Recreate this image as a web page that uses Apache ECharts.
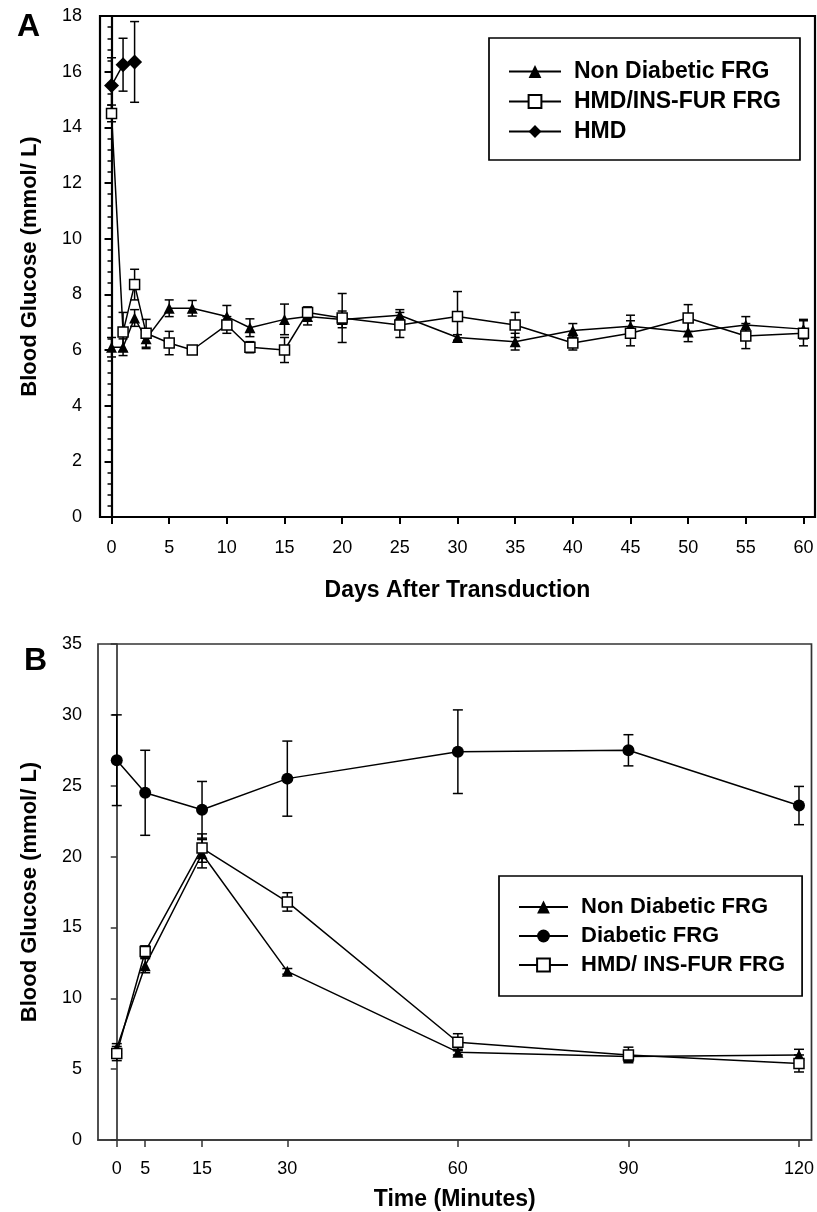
<!DOCTYPE html>
<html>
<head>
<meta charset="utf-8">
<script src="https://cdn.jsdelivr.net/npm/echarts@6/dist/echarts.min.js"></script>
<style>html,body{margin:0;padding:0;background:#fff;}#c{width:817px;height:1212px;}</style>
</head>
<body>
<div id="c"></div>
<script>
// ---------- Panel A data ----------
var daysA = [0,1,2,3,5,7,10,12,15,17,20,25,30,35,40,45,50,55,60];
var nonDiabA = [6.1,6.1,7.15,6.4,7.5,7.5,7.2,6.8,7.1,7.2,7.1,7.25,6.45,6.3,6.7,6.85,6.65,6.9,6.75];
var nonDiabAErr = [0.35,0.3,0.3,0.35,0.3,0.28,0.4,0.32,0.55,0.3,0.3,0.2,0.1,0.3,0.25,0.4,0.35,0.3,0.35];
var hmdInsA = [14.5,6.65,8.35,6.6,6.25,6.0,6.9,6.1,6.0,7.35,7.15,6.9,7.2,6.9,6.25,6.6,7.15,6.5,6.6];
var hmdInsAErr = [0.3,0.7,0.55,0.5,0.42,0.1,0.3,0.2,0.45,0.2,0.88,0.45,0.9,0.45,0.25,0.45,0.48,0.45,0.45];
var hmdDays = [0,1,2];
var hmdA = [15.5,16.25,16.35];
var hmdAErr = [1.0,0.95,1.45];
var ticksA = [0,5,10,15,20,25,30,35,40,45,50,55,60];

// ---------- Panel B data ----------
var timeB = [0,5,15,30,60,90,120];
var nonDiabB = [6.5,12.3,20.2,11.9,6.2,5.9,6.0];
var nonDiabBErr = [0.3,0.5,1.0,0.2,0.2,0.3,0.4];
var diabB = [26.8,24.5,23.3,25.5,27.4,27.5,23.6];
var diabBErr = [3.2,3.0,2.0,2.65,2.95,1.1,1.35];
var hmdInsB = [6.1,13.3,20.6,16.8,6.9,6.0,5.4];
var hmdInsBErr = [0.5,0.4,1.0,0.65,0.6,0.55,0.6];
var ticksB = [0,5,15,30,60,90,120];

var FONT = 'Liberation Sans, Arial, sans-serif';

function pairs(xs, ys){ return xs.map(function(x,i){ return [x, ys[i]]; }); }
function errData(xs, ys, es){ return xs.map(function(x,i){ return [x, ys[i]-es[i], ys[i]+es[i]]; }); }

function errSeries(idx, xs, ys, es, lw, w){
  return {
    type: 'custom', xAxisIndex: idx, yAxisIndex: idx, z: 1, silent: true,
    data: errData(xs, ys, es),
    renderItem: function(params, api){
      var x = api.value(0);
      var lo = api.coord([x, api.value(1)]);
      var hi = api.coord([x, api.value(2)]);
      var st = {stroke: '#000', lineWidth: lw};
      return {type: 'group', children: [
        {type: 'line', shape: {x1: lo[0], y1: lo[1], x2: hi[0], y2: hi[1]}, style: st},
        {type: 'line', shape: {x1: lo[0]-w, y1: lo[1], x2: lo[0]+w, y2: lo[1]}, style: st},
        {type: 'line', shape: {x1: hi[0]-w, y1: hi[1], x2: hi[0]+w, y2: hi[1]}, style: st}
      ]};
    }
  };
}

function lineSeries(name, idx, xs, ys, symbol, size, fill, z){
  return {
    name: name, type: 'line', xAxisIndex: idx, yAxisIndex: idx, z: z,
    data: pairs(xs, ys), symbol: symbol, symbolSize: size, showSymbol: true,
    lineStyle: {color: '#000', width: 1.5},
    itemStyle: {color: fill, borderColor: '#000', borderWidth: fill === '#fff' ? 1.5 : 0},
    animation: false
  };
}

var option = {
  animation: false,
  backgroundColor: '#fff',
  textStyle: {fontFamily: FONT},
  title: [
    {text: 'A', left: 12, top: 6, textStyle: {fontSize: 32, fontWeight: 'bold', color: '#000', fontFamily: FONT}},
    {text: 'B', left: 19, top: 640, textStyle: {fontSize: 32, fontWeight: 'bold', color: '#000', fontFamily: FONT}}
  ],
  grid: [
    {left: 100, right: 2, top: 16, bottom: 695, show: true, borderColor: '#000', borderWidth: 2.2, containLabel: false},
    {left: 98, right: 5, top: 644, bottom: 72, show: true, borderColor: '#333', borderWidth: 1.7, containLabel: false}
  ],
  xAxis: [
    {type: 'value', gridIndex: 0, min: -1, max: 61,
     name: 'Days After Transduction', nameLocation: 'middle', nameGap: 62,
     nameTextStyle: {fontSize: 23, fontWeight: 'bold', color: '#000', fontFamily: FONT},
     axisLine: {lineStyle: {color: '#000', width: 2.2}},
     axisTick: {show: true, length: 7, customValues: ticksA, lineStyle: {color: '#000', width: 2}},
     axisLabel: {customValues: ticksA, fontSize: 18, color: '#000', margin: 22, fontFamily: FONT},
     splitLine: {show: false}},
    {type: 'value', gridIndex: 1, min: -3.3, max: 122.2,
     name: 'Time (Minutes)', nameLocation: 'middle', nameGap: 48,
     nameTextStyle: {fontSize: 23, fontWeight: 'bold', color: '#000', fontFamily: FONT},
     axisLine: {lineStyle: {color: '#333', width: 1.7}},
     axisTick: {show: true, length: 7, customValues: ticksB, lineStyle: {color: '#333', width: 1.5}},
     axisLabel: {customValues: ticksB, fontSize: 18, color: '#000', margin: 20, fontFamily: FONT},
     splitLine: {show: false}}
  ],
  yAxis: [
    {type: 'value', gridIndex: 0, min: 0, max: 18, interval: 2,
     name: 'Blood Glucose (mmol/ L)', nameLocation: 'middle', nameGap: 59,
     nameTextStyle: {fontSize: 22, fontWeight: 'bold', color: '#000', fontFamily: FONT},
     axisLine: {show: true, lineStyle: {color: '#000', width: 2.2}},
     axisTick: {show: true, length: 7, lineStyle: {color: '#000', width: 2}},
     minorTick: {show: true, splitNumber: 5, length: 4, lineStyle: {color: '#000', width: 1.5}},
     axisLabel: {fontSize: 18, color: '#000', margin: 18, fontFamily: FONT},
     splitLine: {show: false}},
    {type: 'value', gridIndex: 1, min: 0, max: 35, interval: 5,
     name: 'Blood Glucose (mmol/ L)', nameLocation: 'middle', nameGap: 57,
     nameTextStyle: {fontSize: 22, fontWeight: 'bold', color: '#000', fontFamily: FONT},
     axisLine: {show: true, lineStyle: {color: '#333', width: 1.7}},
     axisTick: {show: true, length: 6, lineStyle: {color: '#333', width: 1.5}},
     axisLabel: {fontSize: 18, color: '#000', margin: 16, fontFamily: FONT},
     splitLine: {show: false}}
  ],
  legend: [
    {data: ['Non Diabetic FRG', 'HMD/INS-FUR FRG', 'HMD'], orient: 'vertical',
     left: 489, top: 38, padding: [22, 19, 17, 19], itemGap: 7,
     itemWidth: 52, itemHeight: 16, borderColor: '#000', borderWidth: 1.7,
     textStyle: {fontSize: 23, fontWeight: 'bold', color: '#000', fontFamily: FONT, padding: [0, 0, 0, 8]},
     selectedMode: false},
    {data: ['Non Diabetic FRG', 'Diabetic FRG', 'HMD/ INS-FUR FRG'], orient: 'vertical',
     left: 499, top: 876, padding: [20, 17, 20, 19], itemGap: 7,
     itemWidth: 49, itemHeight: 16, borderColor: '#000', borderWidth: 1.7,
     textStyle: {fontSize: 22, fontWeight: 'bold', color: '#000', fontFamily: FONT, padding: [0, 0, 0, 8]},
     selectedMode: false}
  ],
  series: [
    errSeries(0, daysA, nonDiabA, nonDiabAErr, 1.5, 4.5),
    errSeries(0, daysA, hmdInsA, hmdInsAErr, 1.5, 4.5),
    errSeries(0, hmdDays, hmdA, hmdAErr, 1.5, 4.5),
    lineSeries('Non Diabetic FRG', 0, daysA, nonDiabA, 'triangle', 11, '#000', 3),
    lineSeries('HMD/INS-FUR FRG', 0, daysA, hmdInsA, 'rect', 10, '#fff', 4),
    lineSeries('HMD', 0, hmdDays, hmdA, 'diamond', 15, '#000', 5),
    errSeries(1, timeB, nonDiabB, nonDiabBErr, 1.5, 5),
    errSeries(1, timeB, diabB, diabBErr, 1.5, 5),
    errSeries(1, timeB, hmdInsB, hmdInsBErr, 1.5, 5),
    lineSeries('Non Diabetic FRG', 1, timeB, nonDiabB, 'triangle', 11, '#000', 3),
    lineSeries('Diabetic FRG', 1, timeB, diabB, 'circle', 12, '#000', 4),
    lineSeries('HMD/ INS-FUR FRG', 1, timeB, hmdInsB, 'rect', 10, '#fff', 5)
  ]
};
var chart = echarts.init(document.getElementById('c'), null, {renderer: 'canvas'});
chart.setOption(option);
</script>
</body>
</html>
